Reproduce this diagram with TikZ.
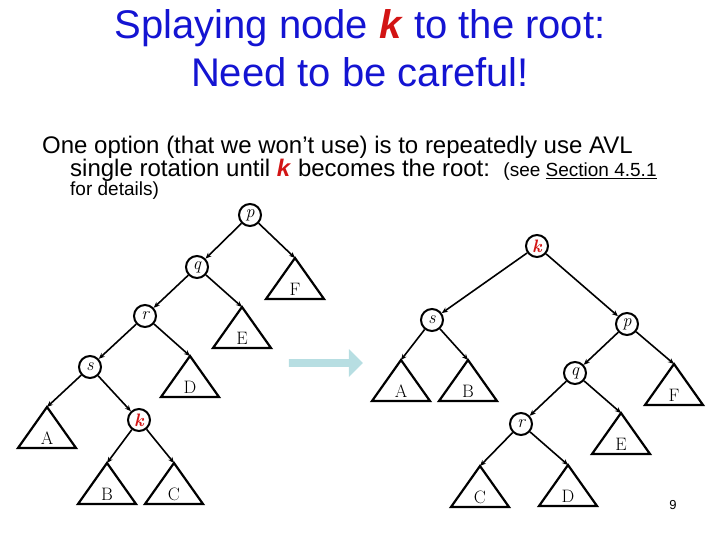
\documentclass[tikz,border=0pt]{standalone}
\usepackage{fontspec}
\setmainfont{Liberation Sans}
\newfontfamily\lmr{Latin Modern Roman}
\usetikzlibrary{arrows.meta,shapes.arrows}
\definecolor{ttl}{RGB}{20,20,210}
\definecolor{kred}{RGB}{210,20,20}
\definecolor{arr}{RGB}{183,222,226}
\begin{document}
\begin{tikzpicture}[x=1pt,y=-1pt,
 tn/.style={circle,draw,line width=2pt,minimum size=22pt,inner sep=0pt,font=\lmr\itshape\fontsize{18}{18}\selectfont},
 kn/.style={tn,font=\lmr\bfseries\itshape\fontsize{18}{18}\selectfont,text=kred},
 ed/.style={line width=1.6pt,-{Stealth[length=6pt,width=5pt]}},
 tri/.style={line width=2.2pt},
 tl/.style={font=\lmr\fontsize{18}{18}\selectfont}]
\useasboundingbox (0,0) rectangle (720,540);
% title
\node[text=ttl,font=\fontsize{40}{42}\selectfont] (t1) at (360,28) {Splaying node \textcolor{kred}{\textbf{\textit{k}}} to the root:};
\node[text=ttl,font=\fontsize{40}{42}\selectfont] (t2) at (360,72) {Need to be careful!};
\node[anchor=base west,font=\fontsize{24}{26}\selectfont,inner sep=0] (b1) at (42,154) {One option (that we won’t use) is to repeatedly use AVL};
\node[anchor=base west,font=\fontsize{24}{26}\selectfont,inner sep=0] (b2) at (70,177) {single rotation until \textcolor{kred}{\textbf{\textit{k}}} becomes the root:\ \ {\fontsize{19}{20}\selectfont(see \underline{Section 4.5.1}}};
\node[anchor=base west,font=\fontsize{19}{20}\selectfont,inner sep=0] (b3) at (70,196) {for details)};
\node[font=\fontsize{13}{14}\selectfont] (pg) at (673,505) {9};
% arrow
\node[single arrow,fill=arr,minimum height=74pt,minimum width=28pt,single arrow head extend=6pt,inner sep=2pt] (ar) at (324,363) {};
% left tree
\node[tn] (p) at (250,215) {p};
\node[tn] (q) at (197,267) {q};
\node[tn] (r) at (145,316) {r};
\node[tn] (s) at (90,367) {s};
\node[kn] (k) at (139,420) {k};
\foreach \n/\x/\y in {F/295/258,E/242/307,D/190/356,A/47/407,B/107/463,C/174/463}{
 \coordinate (L\n) at (\x,\y);
 \draw[tri] (\x,\y) -- (\x-29,\y+41) -- (\x+29,\y+41) -- cycle;
 \node[tl] (LL\n) at (\x,\y+31) {\n};
}
\draw[ed] (p) -- (q); \draw[ed] (p) -- (LF);
\draw[ed] (q) -- (r); \draw[ed] (q) -- (LE);
\draw[ed] (r) -- (s); \draw[ed] (r) -- (LD);
\draw[ed] (s) -- (LA); \draw[ed] (s) -- (k);
\draw[ed] (k) -- (LB); \draw[ed] (k) -- (LC);
% right tree
\node[kn] (k2) at (537,246) {k};
\node[tn] (s2) at (432,320) {s};
\node[tn] (p2) at (627,324) {p};
\node[tn] (q2) at (575,373) {q};
\node[tn] (r2) at (521,424) {r};
\foreach \n/\x/\y in {A/401/360,B/468/360,F/674/364,E/621/413,C/480/466,D/568/465}{
 \coordinate (R\n) at (\x,\y);
 \draw[tri] (\x,\y) -- (\x-29,\y+41) -- (\x+29,\y+41) -- cycle;
 \node[tl] (RL\n) at (\x,\y+31) {\n};
}
\draw[ed] (k2) -- (s2); \draw[ed] (k2) -- (p2);
\draw[ed] (s2) -- (RA); \draw[ed] (s2) -- (RB);
\draw[ed] (p2) -- (q2); \draw[ed] (p2) -- (RF);
\draw[ed] (q2) -- (r2); \draw[ed] (q2) -- (RE);
\draw[ed] (r2) -- (RC); \draw[ed] (r2) -- (RD);
\end{tikzpicture}
\end{document}
